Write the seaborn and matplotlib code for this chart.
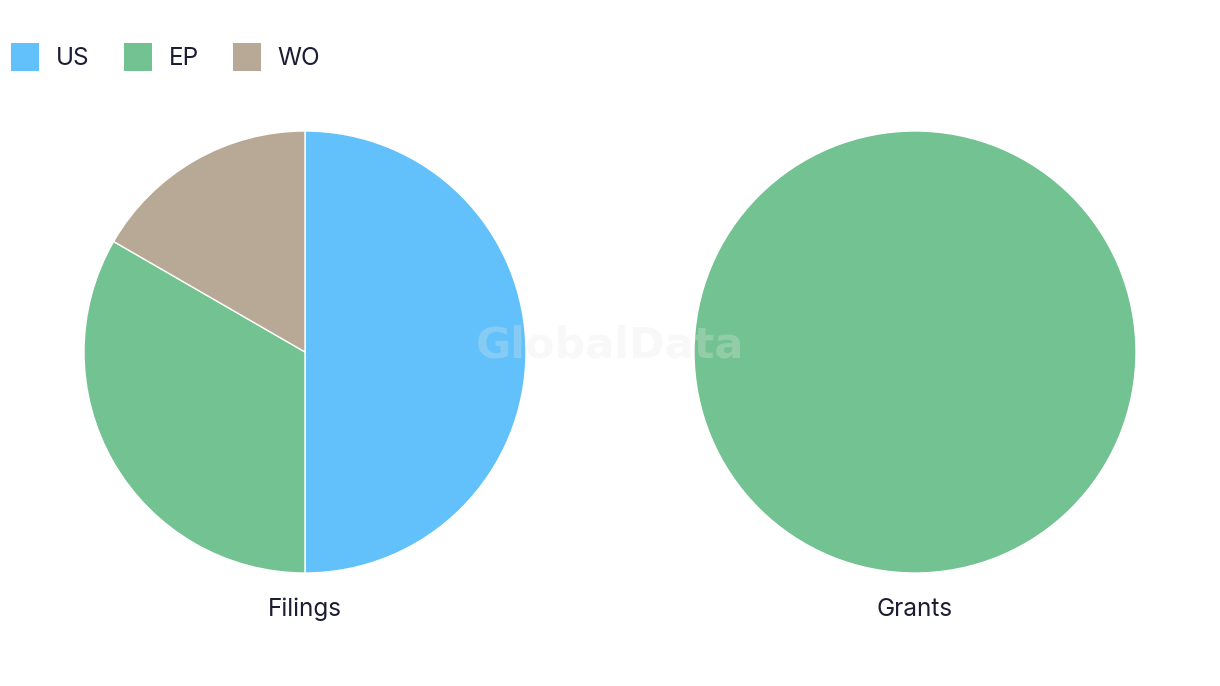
import matplotlib
matplotlib.use("Agg")
import matplotlib.pyplot as plt
import matplotlib.patches as mpatches
import seaborn as sns

categories = ["US", "EP", "WO"]
colors = ["#62C1FA", "#73C291", "#B7A995"]
filings = [3, 2, 1]
grants = [0, 1, 0]
panel_titles = ["Filings", "Grants"]

sns.set_theme(style="white")
plt.rcParams['font.family'] = ['Inter', 'DejaVu Sans']
text_color = "#1c1c33"

W, H = 1220, 686
fig = plt.figure(figsize=(W / 100, H / 100), dpi=100)

def add_pie_axes(cx, cy, r):
    ax = fig.add_axes([(cx - r) / W, (H - cy - r) / H, 2 * r / W, 2 * r / H])
    return ax

for (cx, vals, title) in [(305, filings, panel_titles[0]), (915, grants, panel_titles[1])]:
    ax = add_pie_axes(cx, 352, 221)
    v = [x for x in vals if x > 0]
    c = [col for x, col in zip(vals, colors) if x > 0]
    ax.pie(v, colors=c, startangle=90, counterclock=False, radius=1,
           wedgeprops=dict(edgecolor="white", linewidth=1))
    ax.set_xlim(-1, 1)
    ax.set_ylim(-1, 1)
    ax.set_aspect("equal")
    ax.axis("off")
    ax.text(0, -1.163, title, ha="center", va="center", fontsize=17.5,
            color=text_color, clip_on=False)

fig.text(610 / W, 1 - 345 / H, "GlobalData", ha="center", va="center",
         fontsize=31, fontweight="bold", color="#e6e6e6", alpha=0.28,
         family=["DejaVu Sans"])

handles = [mpatches.Patch(facecolor=col, edgecolor="none", label=cat)
           for cat, col in zip(categories, colors)]
fig.legend(handles=handles, loc="upper left", bbox_to_anchor=(4 / W, 1 - 36 / H),
           ncol=3, frameon=False, fontsize=17.5, handlelength=1.15, handleheight=1.4,
           handletextpad=0.7, columnspacing=1.4, labelcolor=text_color,
           borderaxespad=0, borderpad=0.3)

fig.savefig("out.png", dpi=100, facecolor="white")
